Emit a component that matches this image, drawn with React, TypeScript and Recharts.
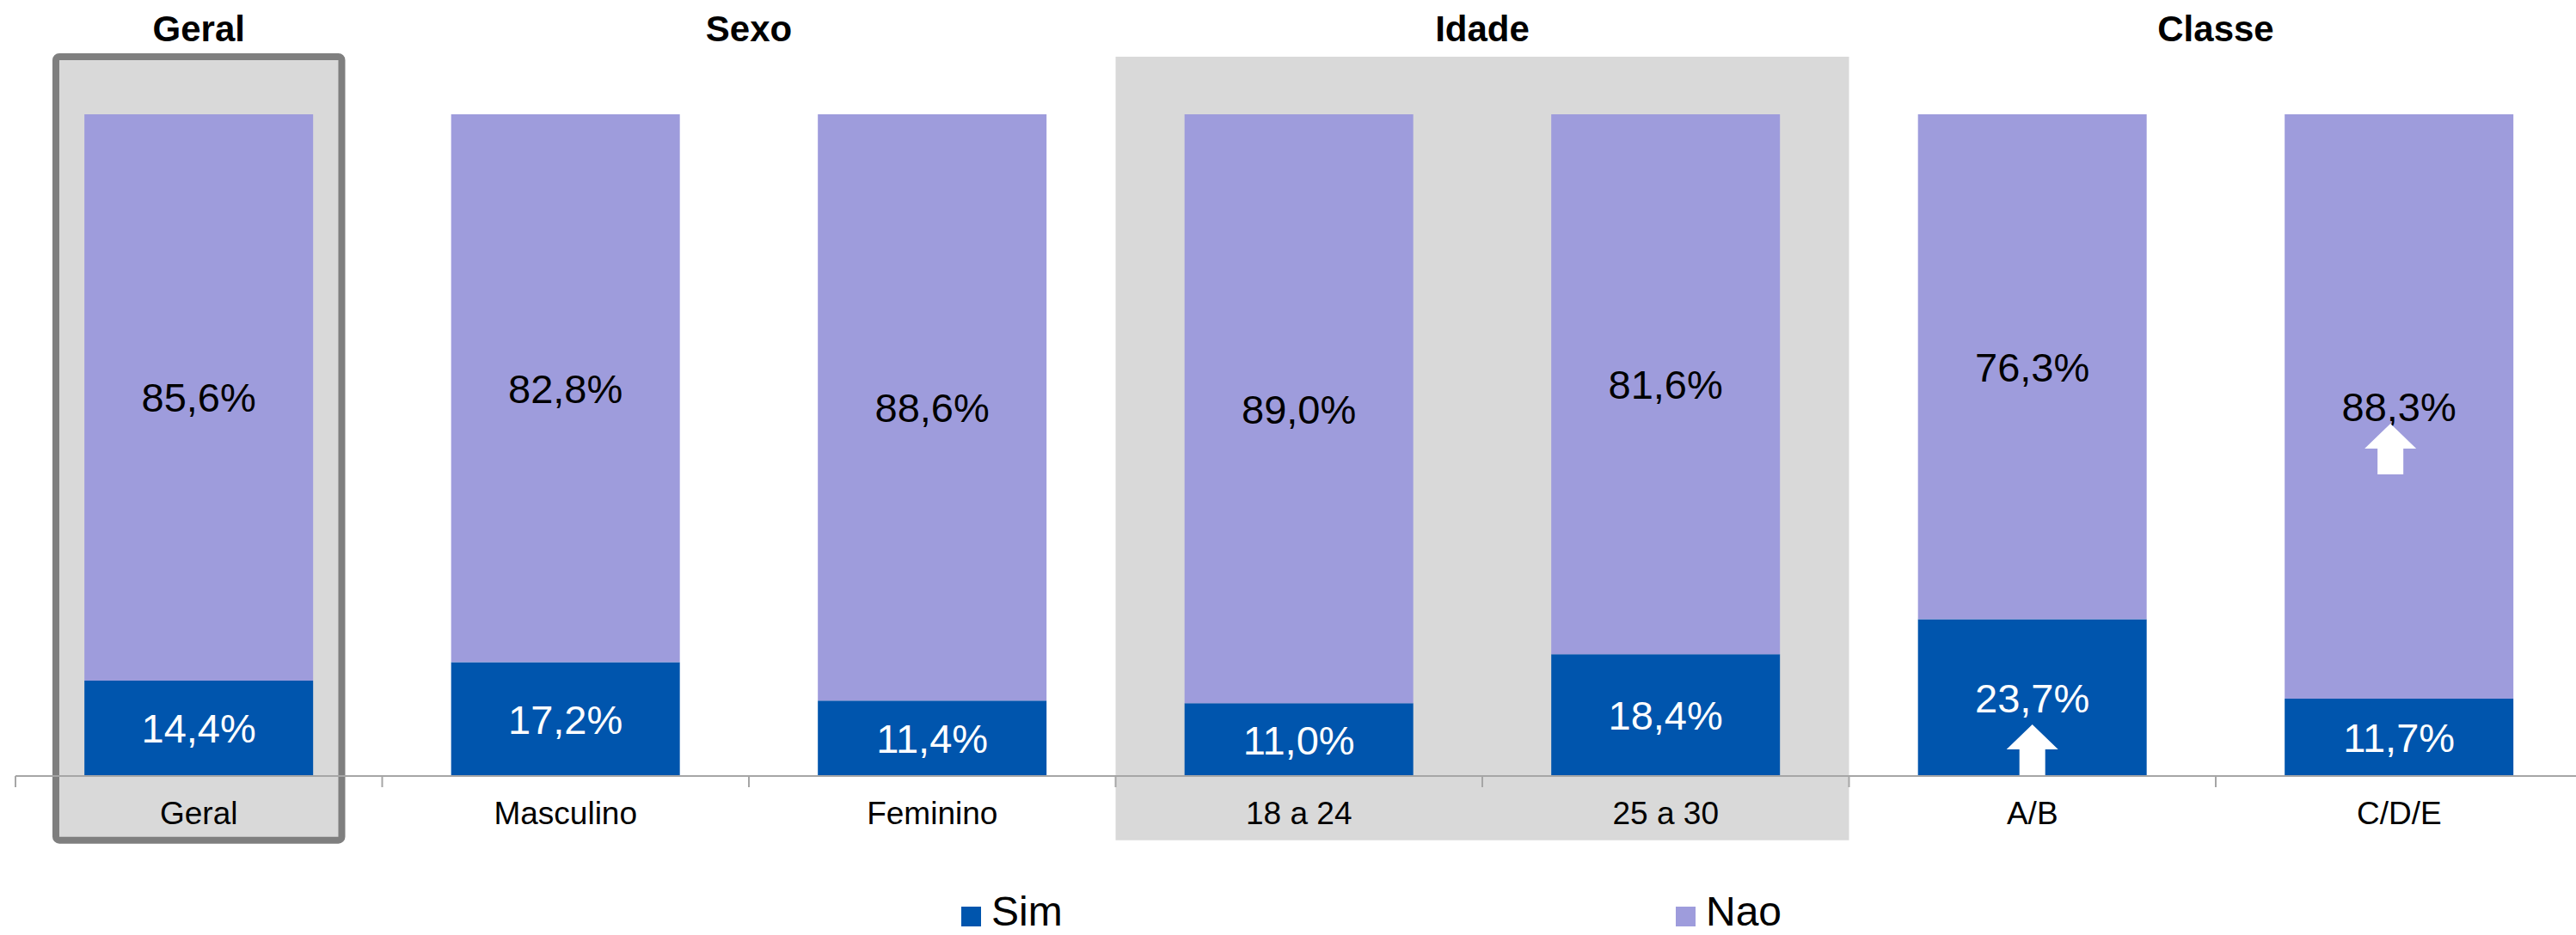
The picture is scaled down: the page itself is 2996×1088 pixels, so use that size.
import React from "react";
import { Bar, BarChart, LabelList, Legend, ReferenceArea, XAxis, YAxis } from "recharts";

const categories = ["Geral", "Masculino", "Feminino", "18 a 24", "25 a 30", "A/B", "C/D/E"];
const simValues = [14.4, 17.2, 11.4, 11.0, 18.4, 23.7, 11.7];
const naoValues = [85.6, 82.8, 88.6, 89.0, 81.6, 76.3, 88.3];
// white "up" arrows marking significant differences
const simArrows = [false, false, false, false, false, true, false];
const naoArrows = [false, false, false, false, false, false, true];

const groupNames = ["Geral", "Sexo", "Idade", "Classe"];
const groupFirst = ["Geral", "Masculino", "18 a 24", "A/B"];
const groupLast = ["Geral", "Feminino", "25 a 30", "C/D/E"];

const seriesNames = ["Sim", "Nao"];

const WIDTH = 3010;
const HEIGHT = 1088;
const MARGIN = { top: 133, right: 6.5, left: 18, bottom: 115 };
const XAXIS_H = 70;
const BAND = (WIDTH - MARGIN.left - MARGIN.right) / categories.length;
const AXIS_Y = HEIGHT - MARGIN.bottom - XAXIS_H;

const SIM = "#0055ad";
const NAO = "#9e9cdc";
const SHADE = "#d9d9d9";
const BORDER = "#7f7f7f";
const AXIS = "#a6a6a6";
const FONT = '"Liberation Sans", Arial, sans-serif';

const data = categories.map((name, i) => ({ name, sim: simValues[i], nao: naoValues[i] }));

const fmt = (v: number) => `${v.toFixed(1).replace(".", ",")}%`;

function arrow(cx: number, tipY: number) {
  const pts = [
    [cx, tipY],
    [cx + 30, tipY + 29],
    [cx + 15, tipY + 29],
    [cx + 15, tipY + 59],
    [cx - 15, tipY + 59],
    [cx - 15, tipY + 29],
    [cx - 30, tipY + 29],
  ]
    .map((p) => p.join(","))
    .join(" ");
  return <polygon points={pts} fill="#fff" />;
}

const SimLabel = (p: any) => {
  const { x, y, width, height, index } = p;
  const cx = x + width / 2;
  const cy = y + height / 2;
  return (
    <g>
      <text x={cx} y={cy} dy="0.36em" textAnchor="middle" fill="#fff" fontSize={47}>
        {fmt(simValues[index])}
      </text>
      {simArrows[index] && arrow(cx, y + height - 60)}
    </g>
  );
};

const NaoLabel = (p: any) => {
  const { x, y, width, height, index } = p;
  const cx = x + width / 2;
  const cy = y + height / 2;
  return (
    <g>
      <text x={cx} y={cy} dy="0.36em" textAnchor="middle" fill="#000" fontSize={47}>
        {fmt(naoValues[index])}
      </text>
      {naoArrows[index] && arrow(cx - 10, cy + 20)}
    </g>
  );
};

const CategoryTick = (p: any) => {
  const { x, payload } = p;
  const left = x - BAND / 2;
  return (
    <g>
      <line x1={left} x2={left} y1={AXIS_Y} y2={AXIS_Y + 13} stroke={AXIS} strokeWidth={2} />
      <text x={x} y={AXIS_Y + 56} textAnchor="middle" fontSize={37} fill="#000">
        {payload.value}
      </text>
    </g>
  );
};

const renderLegend = (props: any) => {
  const found = props.payload || [];
  const items = seriesNames.map((n, i) => {
    const hit = found.find((it: any) => it.value === n);
    return { value: n, color: hit ? hit.color : i ? NAO : SIM };
  });
  return (
    <svg width={WIDTH} height={58}>
      {items.map((it, i) => (
        <g key={it.value} transform={`translate(${1118 + i * 831},0)`}>
          <rect x={0} y={25} width={23} height={23} fill={it.color} />
          <text x={35} y={47} fontSize={48} fill="#000">
            {it.value}
          </text>
        </g>
      ))}
    </svg>
  );
};

export default function App() {
  return (
    <div
      style={{ position: "absolute", left: 0, top: 0, width: 2996, height: HEIGHT, overflow: "hidden", background: "#fff", fontFamily: FONT }}
    >
      <BarChart width={WIDTH} height={HEIGHT} data={data} margin={MARGIN} barCategoryGap="18.8%">
        <YAxis hide domain={[0, 100]} />
        <XAxis
          dataKey="name"
          height={XAXIS_H}
          axisLine={{ stroke: AXIS, strokeWidth: 2 }}
          tickLine={false}
          tick={<CategoryTick />}
          interval={0}
        />
        {/* shaded Idade block */}
        <ReferenceArea
          x1="18 a 24"
          x2="25 a 30"
          y1={-9.7}
          y2={108.7}
          ifOverflow="visible"
          shape={(p: any) => <rect x={p.x} y={p.y} width={p.width} height={p.height} fill={SHADE} />}
        />
        {/* framed Geral block */}
        <ReferenceArea
          x1="Geral"
          x2="Geral"
          y1={-9.7}
          y2={108.7}
          ifOverflow="visible"
          shape={(p: any) => (
            <rect
              x={p.x + 47}
              y={p.y}
              width={p.width - 94}
              height={p.height}
              rx={4}
              fill={SHADE}
              stroke={BORDER}
              strokeWidth={8}
            />
          )}
        />
        {groupNames.map((g, i) => (
          <ReferenceArea
            key={g}
            x1={groupFirst[i]}
            x2={groupLast[i]}
            y1={111}
            y2={115}
            ifOverflow="visible"
            shape={(p: any) => (
              <text x={p.x + p.width / 2} y={p.y + p.height} textAnchor="middle" fontSize={42} fontWeight="bold" fill="#000">
                {g}
              </text>
            )}
          />
        ))}
        <Bar dataKey="sim" name="Sim" stackId="a" fill={SIM} isAnimationActive={false}>
          <LabelList dataKey="sim" content={<SimLabel />} />
        </Bar>
        <Bar dataKey="nao" name="Nao" stackId="a" fill={NAO} isAnimationActive={false}>
          <LabelList dataKey="nao" content={<NaoLabel />} />
        </Bar>
        <Legend
          layout="horizontal"
          verticalAlign="middle"
          align="center"
          wrapperStyle={{ top: 1030, left: 0, width: WIDTH, height: 58 }}
          content={renderLegend}
        />
      </BarChart>
    </div>
  );
}
